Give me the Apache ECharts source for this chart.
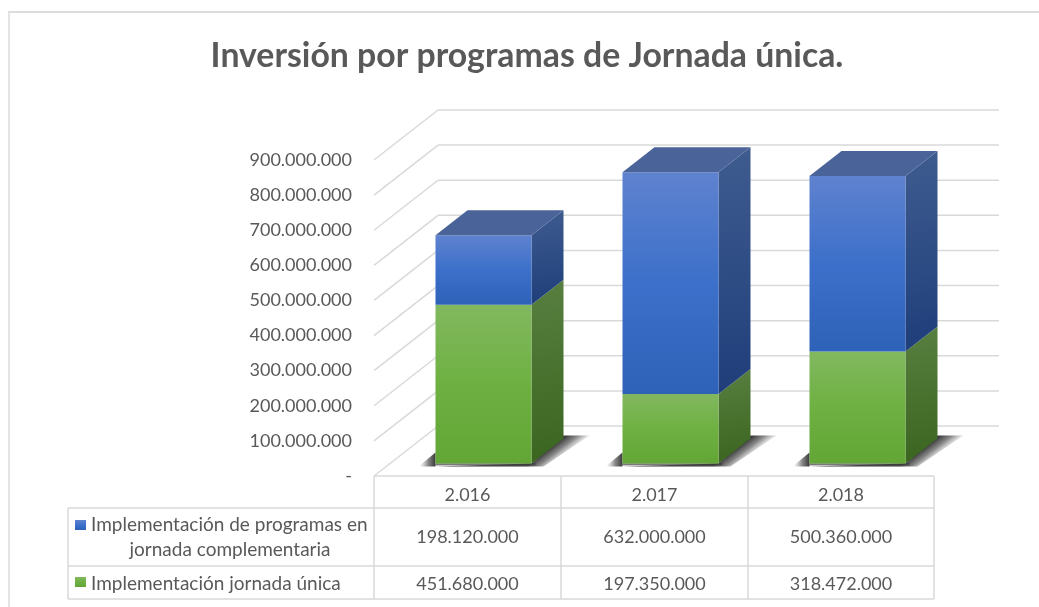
<!DOCTYPE html>
<html><head><meta charset="utf-8">
<style>html,body{margin:0;padding:0;background:#fff}#c{width:1039px;height:607px}</style>
<script src="https://cdn.jsdelivr.net/npm/echarts@6/dist/echarts.min.js"></script></head>
<body><div id="c"></div>
<script>
var titleText = 'Inversión por programas de Jornada única.';
var categories = ['2.016', '2.017', '2.018'];
var seriesBlueName = ['Implementación de programas en', 'jornada complementaria'];
var seriesGreenName = 'Implementación jornada única';
var blueValues = [198120000, 632000000, 500360000];
var greenValues = [451680000, 197350000, 318472000];
var blueLabels = ['198.120.000', '632.000.000', '500.360.000'];
var greenLabels = ['451.680.000', '197.350.000', '318.472.000'];
var yTicks = [0, 100000000, 200000000, 300000000, 400000000, 500000000, 600000000, 700000000, 800000000, 900000000];
var yTickLabels = ['-', '100.000.000', '200.000.000', '300.000.000', '400.000.000', '500.000.000', '600.000.000', '700.000.000', '800.000.000', '900.000.000'];

var FONT = 'Lato, Carlito, sans-serif', TXT = '#595959', LINE = '#d9d9d9';
var chart = echarts.init(document.getElementById('c'), null, {renderer: 'canvas'});
var LG = echarts.graphic.LinearGradient;
var BACK_X = 64, BACK_Y = -50, DX = 32, DY = -25, OFF_X = 16, OFF_Y = -12.6, BAR_W = 96;

function grad(stops, x2, y2) { return new LG(0, 0, x2 === undefined ? 0 : x2, y2 === undefined ? 1 : y2, stops.map(function (c, i) { return {offset: i / (stops.length - 1), color: c}; })); }
var SH = [{offset: 0, color: 'rgba(45,45,45,0.95)'}, {offset: 0.45, color: 'rgba(70,70,70,0.65)'}, {offset: 1, color: 'rgba(120,120,120,0)'}];
var PAL = {
  blue: {front: ['#5f82cf', '#3c70ca', '#2e62b8'], side: ['#3f5c90', '#1f3e7a'], top: '#4a6499'},
  green: {front: ['#82b85f', '#6eb142', '#62a636'], side: ['#587f40', '#3a651f']}
};
function poly(pts, fill, extra) {
  var s = {fill: fill};
  if (extra) for (var k in extra) s[k] = extra[k];
  return {type: 'polygon', shape: {points: pts}, style: s, silent: true};
}
function barRender(pal, withTop) {
  return function (params, api) {
    var i = api.value(0);
    var a = api.coord([i, api.value(1)]), b = api.coord([i, api.value(2)]);
    var xl = a[0] + OFF_X - BAR_W / 2, xr = xl + BAR_W, yb = a[1] + OFF_Y, yt = b[1] + OFF_Y;
    var ch = [
      poly([[xr, yb], [xr + DX, yb + DY], [xr + DX, yt + DY], [xr, yt]], grad(pal.side, 0.5, 1)),
      poly([[xl, yb], [xr, yb], [xr, yt], [xl, yt]], grad(pal.front))
    ];
    if (withTop) ch.push(poly([[xl, yt], [xl + DX, yt + DY], [xr + DX, yt + DY], [xr, yt]], pal.top));
    return {type: 'group', children: ch};
  };
}
function shadowRender(params, api) {
  var a = api.coord([api.value(0), 0]);
  var xl = a[0] + OFF_X - BAR_W / 2, xr = xl + BAR_W, yb = a[1] + OFF_Y;
  var right = new LG(xr + 15, yb - 13, xr + 25, yb, SH, true);
  var left = new LG(xl, yb, xl - 16, yb, SH, true);
  var bottom = new LG(xl, yb, xl, yb + 3, SH, true);
  return {type: 'group', children: [
    poly([[xl, yb + 3], [xr + 12, yb + 3], [xr + DX + 26, yb + DY - 3], [xr + DX, yb + DY - 3], [xr, yb]], right),
    poly([[xl, yb - 11], [xl - 17, yb + 3], [xl, yb + 3]], left),
    poly([[xl, yb], [xr + 4, yb], [xr + 4, yb + 3], [xl, yb + 3]], bottom)
  ]};
}
function gridRender(params, api) {
  var p = api.coord([0, api.value(0)]);
  var x0 = 374, x1 = 935, y = p[1];
  var ls = {stroke: LINE, lineWidth: 1.5};
  return {type: 'group', children: [
    {type: 'line', shape: {x1: x0, y1: y, x2: x0 + BACK_X, y2: y + BACK_Y}, style: ls, silent: true},
    {type: 'line', shape: {x1: x0 + BACK_X, y1: y + BACK_Y, x2: x1 + BACK_X, y2: y + BACK_Y}, style: ls, silent: true}
  ]};
}
function L(x1, y1, x2, y2, c, w) { return {type: 'line', shape: {x1: x1, y1: y1, x2: x2, y2: y2}, style: {stroke: c || LINE, lineWidth: w || 1.5}, silent: true, z: 5}; }
function T(x, y, s, align, size) { return {type: 'text', x: x, y: y, style: {text: s, fill: TXT, font: (size || 18) + 'px ' + FONT, textAlign: align || 'center', textVerticalAlign: 'middle'}, silent: true, z: 6}; }

var colX = [374, 561, 748, 934], rowY = [476, 508, 566, 599], TL = 68;
var g = [
  L(8, 12, 1039, 12, '#dcdcdc', 2), L(9, 12, 9, 607, '#e4e4e4', 2),
  L(colX[0], rowY[0], colX[3], rowY[0]), L(TL, rowY[1], colX[3], rowY[1]), L(TL, rowY[2], colX[3], rowY[2]), L(TL, rowY[3], colX[3], rowY[3]),
  L(TL, rowY[1], TL, rowY[3])
];
colX.forEach(function (x) { g.push(L(x, rowY[0], x, rowY[3])); });
categories.forEach(function (c, i) {
  var cx = (colX[i] + colX[i + 1]) / 2;
  g.push(T(cx, 495, c), T(cx, 537, blueLabels[i]), T(cx, 584, greenLabels[i]));
});
g.push(
  {type: 'rect', shape: {x: 75, y: 520, width: 11, height: 10}, style: {fill: grad(PAL.blue.front)}, silent: true, z: 6},
  {type: 'rect', shape: {x: 75, y: 577, width: 11, height: 10}, style: {fill: grad(PAL.green.front)}, silent: true, z: 6},
  T(91, 525, seriesBlueName[0], 'left', 19), T(230, 550, seriesBlueName[1], 'center', 19), T(91, 584, seriesGreenName, 'left', 19)
);

chart.setOption({
  animation: false,
  backgroundColor: '#fff',
  title: {text: titleText, left: 522, top: 34, textAlign: 'center', textStyle: {fontFamily: FONT, fontWeight: 'bold', fontSize: 33.8, color: TXT}},
  grid: {left: 374, top: 160, width: 561, height: 316},
  xAxis: {type: 'category', data: categories, axisLine: {show: false}, axisTick: {show: false}, axisLabel: {show: false}, splitLine: {show: false}},
  yAxis: {type: 'value', min: 0, max: 900000000, interval: 100000000, axisLine: {show: false}, axisTick: {show: false}, splitLine: {show: false},
    axisLabel: {margin: 22, color: TXT, fontFamily: FONT, fontSize: 18, verticalAlign: 'middle', lineHeight: 20, padding: [0, 0, 3, 0],
      formatter: function (v) { return yTickLabels[yTicks.indexOf(v)]; }}},
  graphic: {elements: g},
  series: [
    {type: 'custom', renderItem: gridRender, data: yTicks.map(function (v) { return [v]; }), encode: {y: 0}, clip: false, silent: true, z: 1},
    {type: 'custom', renderItem: shadowRender, data: categories.map(function (c, i) { return [i]; }), encode: {x: 0}, clip: false, silent: true, z: 2},
    {type: 'custom', name: seriesGreenName, renderItem: barRender(PAL.green, false), clip: false, silent: true, z: 3,
      data: greenValues.map(function (v, i) { return [i, 0, v]; }), encode: {x: 0, y: [1, 2]}},
    {type: 'custom', name: seriesBlueName.join(' '), renderItem: barRender(PAL.blue, true), clip: false, silent: true, z: 4,
      data: blueValues.map(function (v, i) { return [i, greenValues[i], greenValues[i] + v]; }), encode: {x: 0, y: [1, 2]}}
  ]
});
</script></body></html>
